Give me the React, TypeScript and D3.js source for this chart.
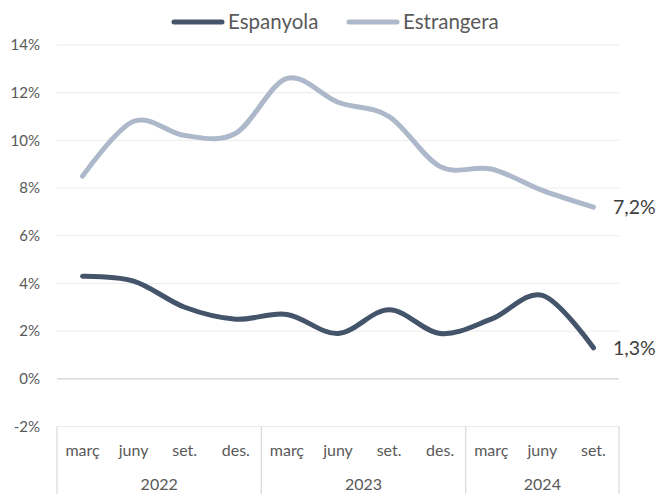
import * as d3 from "d3";
import React, { useRef, useEffect } from "react";

const months = ["març", "juny", "set.", "des.", "març", "juny", "set.", "des.", "març", "juny", "set."];
const years = ["2022", "2023", "2024"];
const yearSizes = [4, 4, 3];
const espanyola = [4.3, 4.1, 3.0, 2.5, 2.7, 1.9, 2.9, 1.9, 2.5, 3.5, 1.3];
const estrangera = [8.5, 10.8, 10.2, 10.3, 12.6, 11.6, 11.0, 8.9, 8.8, 7.9, 7.2];
const yTicks = [-2, 0, 2, 4, 6, 8, 10, 12, 14];

const width = 658,
  height = 494;
const left = 57,
  right = 619,
  top = 45,
  bottom = 426.5;
const font = "Lato, 'Open Sans', sans-serif";
const dark = "#44546A";
const light = "#ADB9CA";
const textCol = "#595959";

function App() {
  const ref = useRef<SVGSVGElement>(null);

  useEffect(() => {
    const svg = d3.select(ref.current);
    svg.selectAll("*").remove();

    var x = d3
      .scaleBand<number>()
      .domain(d3.range(months.length))
      .range([left, right])
      .padding(0);
    const cx = (i: number) => x(i)! + x.bandwidth() / 2;

    var y = d3.scaleLinear().domain([-2, 14]).range([bottom, top]);

    // gridlines
    svg
      .selectAll("line.grid")
      .data(yTicks)
      .enter()
      .append("line")
      .attr("x1", left)
      .attr("x2", right)
      .attr("y1", (d) => y(d))
      .attr("y2", (d) => y(d))
      .attr("stroke", (d) => (d === 0 ? "#D9D9D9" : "#EBEBEB"))
      .attr("stroke-width", (d) => (d === 0 ? 1.5 : 1));

    // y labels
    svg
      .selectAll("text.ytick")
      .data(yTicks)
      .enter()
      .append("text")
      .attr("x", 40)
      .attr("y", (d) => y(d))
      .attr("dy", "0.35em")
      .attr("text-anchor", "end")
      .attr("font-family", font)
      .attr("font-size", 15)
      .attr("fill", textCol)
      .text((d) => d + "%");

    // category axis box
    let start = 0;
    const seps = [left];
    yearSizes.forEach((n) => {
      start += n;
      seps.push(start < months.length ? x(start)! : right);
    });
    svg
      .selectAll("line.sep")
      .data(seps)
      .enter()
      .append("line")
      .attr("x1", (d) => d)
      .attr("x2", (d) => d)
      .attr("y1", bottom)
      .attr("y2", height)
      .attr("stroke", "#D9D9D9")
      .attr("stroke-width", 1.2);

    svg
      .selectAll("text.month")
      .data(months)
      .enter()
      .append("text")
      .attr("x", (d, i) => cx(i))
      .attr("y", 456)
      .attr("text-anchor", "middle")
      .attr("font-family", font)
      .attr("font-size", 16)
      .attr("fill", textCol)
      .text((d) => d);

    svg
      .selectAll("text.year")
      .data(years)
      .enter()
      .append("text")
      .attr("x", (d, i) => (seps[i] + seps[i + 1]) / 2)
      .attr("y", 490)
      .attr("text-anchor", "middle")
      .attr("font-family", font)
      .attr("font-size", 16)
      .attr("fill", textCol)
      .text((d) => d);

    // lines
    const line = d3
      .line<number>()
      .x((d, i) => cx(i))
      .y((d) => y(d))
      .curve(d3.curveCatmullRom.alpha(0));

    [
      { data: estrangera, color: light },
      { data: espanyola, color: dark },
    ].forEach((s) => {
      svg
        .append("path")
        .attr("d", line(s.data))
        .attr("fill", "none")
        .attr("stroke", s.color)
        .attr("stroke-width", 5)
        .attr("stroke-linecap", "round");
    });

    // end labels
    [estrangera, espanyola].forEach((data) => {
      const last = data[data.length - 1];
      svg
        .append("text")
        .attr("x", 613)
        .attr("y", y(last))
        .attr("dy", "0.35em")
        .attr("font-family", font)
        .attr("font-size", 19.5)
        .attr("fill", "#404040")
        .text(last.toFixed(1).replace(".", ",") + "%");
    });

    // legend
    const legend = [
      { name: "Espanyola", color: dark, x: 172 },
      { name: "Estrangera", color: light, x: 347 },
    ];
    legend.forEach((l) => {
      svg
        .append("line")
        .attr("x1", l.x + 2)
        .attr("x2", l.x + 50)
        .attr("y1", 22)
        .attr("y2", 22)
        .attr("stroke", l.color)
        .attr("stroke-width", 5)
        .attr("stroke-linecap", "round");
      svg
        .append("text")
        .attr("x", l.x + 56)
        .attr("y", 22)
        .attr("dy", "0.35em")
        .attr("font-family", font)
        .attr("font-size", 20.5)
        .attr("fill", textCol)
        .text(l.name);
    });
  }, []);

  return (
    <svg
      ref={ref}
      width={width}
      height={height}
      style={{ position: "absolute", left: 0, top: 0, background: "#fff" }}
    ></svg>
  );
}

export default App;
